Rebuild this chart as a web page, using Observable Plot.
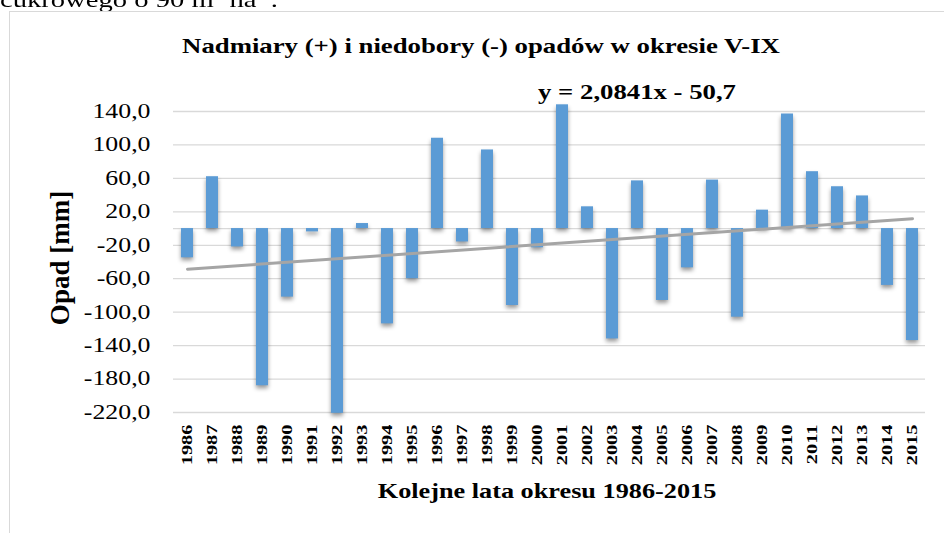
<!DOCTYPE html>
<html>
<head>
<meta charset="utf-8">
<script src="https://cdn.jsdelivr.net/npm/d3@7"></script>
<script src="https://cdn.jsdelivr.net/npm/@observablehq/plot@0.6"></script>
<style>
  html, body { margin: 0; padding: 0; background: #fff; }
  #wrap { position: relative; width: 944px; height: 533px; overflow: hidden; background: #fff;
          font-family: "Liberation Serif", "Times New Roman", serif; color: #000; }
  .frame { position: absolute; left: 9px; top: 11px; width: 960px; height: 560px;
           border: 1px solid #d9d9d9; box-sizing: border-box; }
  .t { position: absolute; white-space: nowrap; line-height: 1; }
  #chart { position: absolute; left: 0; top: 0; }
  sup { font-size: 0.6em; vertical-align: 0.6em; line-height: 0; }
</style>
</head>
<body>
<div id="wrap">
  <div class="t" id="bodytext" style="left:0;top:-11px;font-size:22px;transform-origin:0 50%;transform:scaleX(1.3);">cukrowego o 90 m<sup>3</sup> ha<sup>-1</sup>.</div>
  <div class="frame"></div>
  <div id="chart"></div>
  <div class="t" id="title" style="left:481px;top:36px;font-size:21px;font-weight:bold;transform:translateX(-50%) scaleX(1.274);">Nadmiary (+) i niedobory (-) opadów w okresie V-IX</div>
  <div class="t" id="eq" style="left:637px;top:82px;font-size:21px;font-weight:bold;transform:translateX(-50%) scaleX(1.273);">y = 2,0841x - 50,7</div>
  <div class="t" id="xtitle" style="left:547px;top:481px;font-size:21px;font-weight:bold;transform:translateX(-50%) scaleX(1.25);">Kolejne lata okresu 1986-2015</div>
  <div class="t" id="ytitle" style="left:60px;top:258px;font-size:27px;font-weight:bold;transform:translate(-50%,-50%) rotate(-90deg);">Opad [mm]</div>
</div>
<script>
// ---- data ----
const years = ["1986","1987","1988","1989","1990","1991","1992","1993","1994","1995",
               "1996","1997","1998","1999","2000","2001","2002","2003","2004","2005",
               "2006","2007","2008","2009","2010","2011","2012","2013","2014","2015"];
const values = [-35, 62, -22, -188, -82, -4, -221, 6, -114, -60,
                108, -16, 94, -92, -23, 148, 26, -132, 57, -86,
                -47, 58, -106, 22, 137, 68, 50, 39, -68, -134];
const yTicks = [-220, -180, -140, -100, -60, -20, 20, 60, 100, 140];
const trendSlope = 2.0841;
const trendIntercept = -50.7;

const data = years.map((year, i) => ({year, value: values[i]}));
// trend line endpoints from the displayed equation (x = 1 .. n)
const trend = [
  {year: years[0], v: trendSlope * 1 + trendIntercept},
  {year: years[years.length - 1], v: trendSlope * years.length + trendIntercept}
];

const chart = Plot.plot({
  width: 944,
  height: 533,
  marginLeft: 173,
  marginRight: 19,
  marginTop: 111,
  marginBottom: 121,
  style: {fontFamily: '"Liberation Serif", "Times New Roman", serif', background: "transparent", overflow: "visible", color: "#000"},
  x: {domain: years, paddingInner: 0.52, paddingOuter: 0.26, tickSize: 0, tickPadding: 12, tickRotate: -90, label: null},
  y: {domain: [-220, 140], ticks: yTicks, tickSize: 0, tickPadding: 23,
      tickFormat: d => d.toFixed(1).replace(".", ","), label: null},
  marks: [
    Plot.ruleY(yTicks, {stroke: "#d9d9d9", strokeOpacity: 1, strokeWidth: 1.3}),
    Plot.ruleY([0], {stroke: "#d9d9d9", strokeOpacity: 1, strokeWidth: 1.3}),
    Plot.barY(data, {x: "year", y: "value", fill: "#5b9bd5"}),
    Plot.lineY(trend, {x: "year", y: "v", stroke: "#a5a5a5", strokeWidth: 3})
  ]
});
document.getElementById("chart").appendChild(chart);

function stretch(el, s) {
  const t = el.getAttribute("transform");
  if (t) el.setAttribute("transform", t + ` scale(${s},1)`);
}
let xl = chart.querySelectorAll('[aria-label="x-axis tick label"] text');
if (!xl.length) xl = chart.querySelectorAll('[aria-label="x-axis"] text');
xl.forEach(el => {
  el.style.fontSize = "15px";
  el.style.fontWeight = "bold";
  el.style.fill = "#000";
  stretch(el, 1.36);
});
let yl = chart.querySelectorAll('[aria-label="y-axis tick label"] text');
if (!yl.length) yl = chart.querySelectorAll('[aria-label="y-axis"] text');
yl.forEach(el => {
  el.style.fontSize = "20px";
  el.style.fill = "#000";
  stretch(el, 1.29);
});
const bars = chart.querySelector('[aria-label="bar"]');
if (bars) bars.style.filter = "drop-shadow(0px 3px 2px rgba(0,0,0,0.4))";
</script>
</body>
</html>
